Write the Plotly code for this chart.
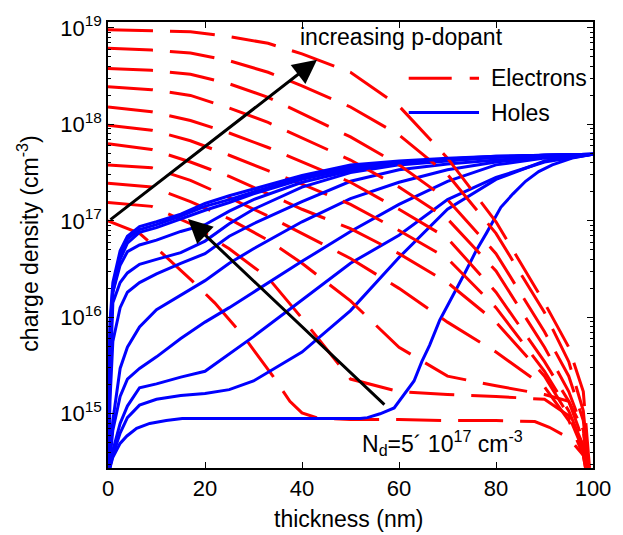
import plotly.graph_objects as go

# ---- data: carrier densities, stored as log10(cm^-3) versus thickness (nm) ----
x_e = [0, 9, 17, 25, 33, 40, 50, 60, 70, 80, 90, 95, 98, 100]
n_19_0 = [18.98, 18.97, 18.96, 18.91, 18.84, 18.73, 18.54, 18.19, 17.65, 16.99, 16.15, 15.69, 15.23, 14.0]
n_18_8 = [18.79, 18.77, 18.74, 18.66, 18.54, 18.40, 18.18, 17.89, 17.48, 16.87, 16.05, 15.54, 15.03, 14.0]
n_18_6 = [18.58, 18.56, 18.52, 18.42, 18.28, 18.11, 17.87, 17.58, 17.22, 16.66, 15.85, 15.39, 14.93, 14.0]
n_18_4 = [18.39, 18.36, 18.30, 18.17, 18.02, 17.86, 17.63, 17.35, 17.02, 16.48, 15.69, 15.23, 14.83, 14.0]
n_18_2 = [18.18, 18.13, 18.04, 17.91, 17.76, 17.61, 17.40, 17.12, 16.82, 16.26, 15.54, 15.13, 14.72, 14.0]
n_18_0 = [17.99, 17.94, 17.83, 17.68, 17.52, 17.38, 17.17, 16.90, 16.61, 16.10, 15.44, 15.03, 14.67, 14.0]
n_17_8 = [17.80, 17.74, 17.61, 17.46, 17.28, 17.12, 16.92, 16.66, 16.36, 15.95, 15.39, 14.98, 14.62, 14.0]
n_17_6 = [17.58, 17.55, 17.42, 17.24, 17.05, 16.87, 16.61, 16.30, 15.95, 15.64, 15.28, 14.93, 14.57, 14.0]
n_17_4 = [17.39, 17.35, 17.20, 17.02, 16.80, 16.56, 16.17, 15.69, 15.39, 15.29, 15.20, 15.13, 14.83, 14.0]
n_17_2 = [17.19, 17.15, 16.97, 16.71, 16.41, 15.99, 15.36, 15.23, 15.20, 15.18, 15.15, 14.98, 14.67, 14.0]
x_e0 = [0, 6.5, 10.6, 17.3, 22, 28, 34, 37.5, 40, 43, 50, 60, 70, 80, 88, 91, 95, 98, 100]
n_17_0 = [17.00, 16.87, 16.69, 16.38, 16.15, 15.80, 15.39, 15.13, 15.01, 14.96, 14.94, 14.94,
          14.93, 14.93, 14.92, 14.86, 14.75, 14.57, 14.0]

x_h = [0, 0.4, 1, 2.5, 4, 6.5, 10, 15, 20, 25, 30, 40, 50, 60, 70, 80, 90, 100]
p_19_0 = [14.0, 15.95, 16.36, 16.69, 16.84, 16.94, 16.99, 17.07, 17.18, 17.26, 17.33, 17.47, 17.58, 17.62, 17.65, 17.67, 17.68, 17.69]
p_18_8 = [14.0, 15.85, 16.31, 16.65, 16.81, 16.91, 16.96, 17.05, 17.15, 17.22, 17.30, 17.45, 17.56, 17.61, 17.64, 17.67, 17.68, 17.69]
p_18_6 = [14.0, 15.75, 16.26, 16.60, 16.77, 16.88, 16.93, 17.02, 17.11, 17.19, 17.28, 17.43, 17.54, 17.60, 17.64, 17.66, 17.68, 17.69]
p_18_4 = [14.0, 15.54, 16.26, 16.54, 16.68, 16.75, 16.80, 16.89, 16.96, 17.10, 17.22, 17.40, 17.52, 17.59, 17.63, 17.66, 17.68, 17.69]
p_18_2 = [14.0, 15.34, 16.15, 16.36, 16.46, 16.55, 16.60, 16.67, 16.79, 16.97, 17.12, 17.35, 17.50, 17.58, 17.62, 17.66, 17.68, 17.69]
p_18_0 = [14.0, 15.13, 15.75, 16.10, 16.26, 16.36, 16.45, 16.56, 16.66, 16.84, 16.97, 17.20, 17.41, 17.53, 17.59, 17.63, 17.66, 17.69]
p_17_8 = [14.0, 14.57, 14.93, 15.47, 15.69, 15.90, 16.08, 16.23, 16.38, 16.56, 16.71, 16.99, 17.23, 17.40, 17.53, 17.61, 17.66, 17.69]
p_17_6 = [14.0, 14.52, 14.83, 15.18, 15.36, 15.47, 15.59, 15.78, 15.95, 16.10, 16.26, 16.58, 16.89, 17.17, 17.41, 17.58, 17.65, 17.69]
p_17_4 = [14.0, 14.49, 14.62, 14.90, 15.08, 15.27, 15.31, 15.38, 15.44, 15.62, 15.80, 16.18, 16.56, 16.85, 17.22, 17.45, 17.61, 17.69]
p_17_2 = [14.0, 14.45, 14.57, 14.80, 14.96, 15.09, 15.15, 15.19, 15.21, 15.25, 15.34, 15.64, 16.07, 16.62, 17.12, 17.43, 17.62, 17.69]
x_h0 = [0, 0.4, 1.0, 2.45, 3.9, 5.9, 8.6, 12, 15.3, 25, 35, 45, 52, 53.5, 56.1, 59, 61.2, 63.1, 64.7,
        66.3, 68.4, 70.4, 71.8, 73.9, 75.9, 78, 79.4, 81, 83.5, 86.1, 88.8, 91.6, 95.7, 98.4, 100]
p_17_0 = [14.0, 14.44, 14.55, 14.69, 14.77, 14.85, 14.90, 14.93, 14.95, 14.95, 14.95, 14.95, 14.95, 14.96,
          15.00, 15.06, 15.21, 15.34, 15.54, 15.71, 15.97, 16.15, 16.29, 16.49, 16.69, 16.87, 17.00,
          17.14, 17.28, 17.41, 17.51, 17.58, 17.65, 17.68, 17.69]

electron_sets = [(x_e0, n_17_0), (x_e, n_17_2), (x_e, n_17_4), (x_e, n_17_6), (x_e, n_17_8), (x_e, n_18_0),
                 (x_e, n_18_2), (x_e, n_18_4), (x_e, n_18_6), (x_e, n_18_8), (x_e, n_19_0)]
hole_sets = [(x_h0, p_17_0), (x_h, p_17_2), (x_h, p_17_4), (x_h, p_17_6), (x_h, p_17_8), (x_h, p_18_0),
             (x_h, p_18_2), (x_h, p_18_4), (x_h, p_18_6), (x_h, p_18_8), (x_h, p_19_0)]

y_ticks = [15, 16, 17, 18, 19]
x_ticks = [0, 20, 40, 60, 80, 100]

RED = "#ff0000"
BLUE = "#0000ff"
FONT = "Liberation Sans, Arial, sans-serif"
DASH = "45px,17px"

fig = go.Figure()
for (xe, ne), (xh, ph) in zip(electron_sets, hole_sets):
    fig.add_trace(go.Scatter(x=xe, y=[10 ** v for v in ne], mode="lines",
                             line=dict(color=RED, width=3, dash=DASH), showlegend=False,
                             hoverinfo="skip"))
    fig.add_trace(go.Scatter(x=xh, y=[10 ** v for v in ph], mode="lines",
                             line=dict(color=BLUE, width=3), showlegend=False,
                             hoverinfo="skip"))

minor_vals = [m * 10 ** d for d in range(14, 19) for m in range(2, 10)]
axis_common = dict(showline=True, linecolor="black", linewidth=1.5, mirror="ticks",
                   ticks="inside", ticklen=6, tickwidth=1.2, tickcolor="black",
                   showgrid=False, zeroline=False,
                   tickfont=dict(family=FONT, size=22, color="black"))

fig.update_xaxes(range=[0, 100], tickmode="array", tickvals=x_ticks,
                 ticktext=[str(t) for t in x_ticks], ticklabelstandoff=0, **axis_common)
fig.update_yaxes(type="log", range=[14.438, 19.061], tickmode="array",
                 tickvals=[10 ** d for d in y_ticks],
                 ticktext=["10<sup>%d</sup>" % d for d in y_ticks],
                 minor=dict(ticks="inside", ticklen=3, tickwidth=1, tickcolor="black",
                            tickmode="array", tickvals=minor_vals, showgrid=False),
                 **axis_common)

txt = dict(family=FONT, size=23, color="black")
annotations = [
    dict(text="thickness (nm)", x=0.496, y=-0.114, xref="paper", yref="paper",
         showarrow=False, font=txt, xanchor="center", yanchor="middle"),
    dict(text="charge density (cm<sup>-3</sup>)", x=-0.165, y=0.503, xref="paper", yref="paper",
         showarrow=False, font=txt, textangle=-90, xanchor="center", yanchor="middle"),
    dict(text="increasing p-dopant", x=0.606, y=0.967, xref="paper", yref="paper",
         showarrow=False, font=txt, xanchor="center", yanchor="middle"),
    dict(text="N<sub>d</sub>=5´ 10<sup>17</sup> cm<sup>-3</sup>", x=0.69, y=0.057,
         xref="paper", yref="paper", showarrow=False, font=txt,
         xanchor="center", yanchor="middle"),
    dict(text="Electrons", x=0.786, y=0.874, xref="paper", yref="paper", showarrow=False,
         font=txt, xanchor="left", yanchor="middle"),
    dict(text="Holes", x=0.786, y=0.797, xref="paper", yref="paper", showarrow=False,
         font=txt, xanchor="left", yanchor="middle"),
    # arrow along the electron family
    dict(x=43.1, y=18.67, ax=0.2, ay=17.0, xref="x", yref="y", axref="x", ayref="y",
         text="", showarrow=True, arrowhead=2, arrowsize=1.6, arrowwidth=3, arrowcolor="black"),
    # arrow along the hole family
    dict(x=16.5, y=17.02, ax=57.3, ay=15.08, xref="x", yref="y", axref="x", ayref="y",
         text="", showarrow=True, arrowhead=2, arrowsize=1.6, arrowwidth=3, arrowcolor="black"),
]

shapes = [
    dict(type="line", xref="paper", yref="paper", x0=0.620, x1=0.765, y0=0.874, y1=0.874,
         line=dict(color=RED, width=3, dash="43px,18px")),
    dict(type="line", xref="paper", yref="paper", x0=0.620, x1=0.765, y0=0.797, y1=0.797,
         line=dict(color=BLUE, width=3)),
]

fig.update_layout(width=623, height=535, margin=dict(l=108, r=25, t=15, b=67),
                  plot_bgcolor="white", paper_bgcolor="white", showlegend=False,
                  font=dict(family=FONT, size=22, color="black"),
                  annotations=annotations, shapes=shapes)

fig.write_html("out.html")
